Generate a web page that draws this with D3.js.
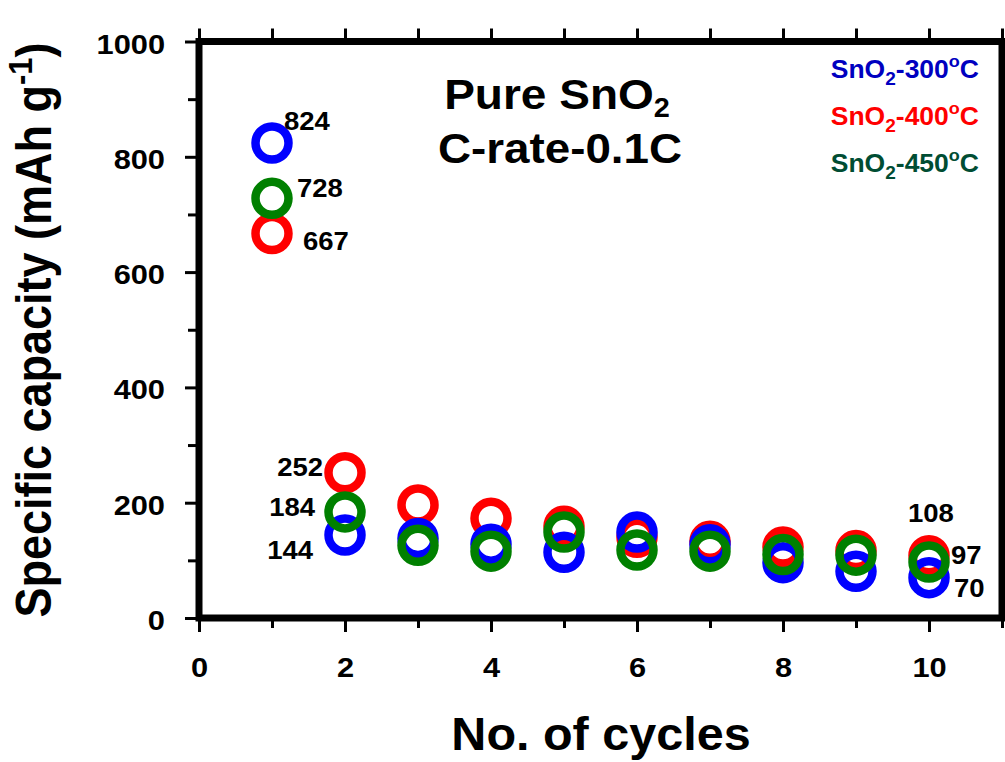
<!DOCTYPE html>
<html>
<head>
<meta charset="utf-8">
<script src="https://cdn.jsdelivr.net/npm/d3@7"></script>
<style>
  html, body { margin: 0; padding: 0; background: #fff; }
  svg { display: block; }
  text { font-family: "Liberation Sans", Arial, Helvetica, sans-serif; font-weight: bold; }
</style>
</head>
<body>
<svg id="chart"></svg>
<script>
// Cycle numbers and specific capacity (mAh g-1) per annealing temperature
const cycles = [1, 2, 3, 4, 5, 6, 7, 8, 9, 10];
const cap300 = [824, 144, 138, 128, 114, 149, 127, 96, 81, 70];
const cap400 = [667, 252, 196, 173, 159, 140, 133, 123, 117, 108];
const cap450 = [728, 184, 126, 116, 149, 118, 116, 110, 109, 97];

const legendTemps = ["300", "400", "450"];
const yMajorTicks = [0, 200, 400, 600, 800, 1000];
const yMinorTicks = [100, 300, 500, 700, 900];
const xMajorTicks = [0, 2, 4, 6, 8, 10];
const xMinorTicks = [1, 3, 5, 7, 9, 11];

// Marker and legend colours
const markerColors = { t300: "#0000ff", t400: "#ff0000", t450: "#008000" };
const legendColors = ["#0000c0", "#ff0000", "#004d33"];

const W = 1005, H = 762;
const SX = 1.1; // horizontal stretch applied to text

const svg = d3.select("#chart").attr("width", W).attr("height", H);
svg.append("rect").attr("width", W).attr("height", H).attr("fill", "#fff");

const x = d3.scaleLinear().domain([0, 11]).range([199, 1002]);
const y = d3.scaleLinear().domain([0, 1000]).range([618, 41.5]);

// Writes a (possibly multi-part) stretched text label
function label(parent, px, py, parts, size, anchor, color, extra, sx) {
  const t = parent.append("text")
    .attr("transform", `translate(${px},${py}) scale(${sx || SX},1)` + (extra || ""))
    .attr("text-anchor", anchor)
    .attr("font-size", size)
    .attr("fill", color || "#000");
  if (typeof parts === "string") { t.text(parts); return t; }
  parts.forEach(p => {
    const s = t.append("tspan").text(p.t);
    if (p.size) s.attr("font-size", p.size);
    if (p.dy) s.attr("dy", p.dy);
  });
  return t;
}

// Axes: ticks outside the frame
function styleAxis(g) {
  g.select(".domain").remove();
  g.selectAll(".tick line").attr("stroke", "#000").attr("stroke-width", 3);
}

const gLeft = svg.append("g").attr("transform", `translate(${x(0)},0)`);
gLeft.call(d3.axisLeft(y).tickValues(yMajorTicks).tickSize(14).tickFormat(d3.format("d"))).call(styleAxis);
gLeft.selectAll(".tick text")
  .attr("x", null).attr("dy", null)
  .attr("transform", `translate(-34,11.5) scale(${SX},1)`)
  .attr("text-anchor", "end")
  .attr("font-size", 28).attr("fill", "#000");
svg.append("g").attr("transform", `translate(${x(0)},0)`)
  .call(d3.axisLeft(y).tickValues(yMinorTicks).tickSize(11).tickFormat("")).call(styleAxis);

const gBottom = svg.append("g").attr("transform", `translate(0,${y(0)})`);
gBottom.call(d3.axisBottom(x).tickValues(xMajorTicks).tickSize(14).tickFormat(d3.format("d"))).call(styleAxis);
gBottom.selectAll(".tick text")
  .attr("y", null).attr("dy", null)
  .attr("transform", `translate(0,59) scale(${SX},1)`)
  .attr("text-anchor", "middle")
  .attr("font-size", 28).attr("fill", "#000");
svg.append("g").attr("transform", `translate(0,${y(0)})`)
  .call(d3.axisBottom(x).tickValues(xMinorTicks).tickSize(10).tickFormat("")).call(styleAxis);

svg.append("g").attr("transform", `translate(0,${y(1000)})`)
  .call(d3.axisTop(x).tickValues(d3.range(0, 12)).tickSize(13).tickFormat("")).call(styleAxis);

// Plot frame
svg.append("rect")
  .attr("x", x(0)).attr("y", y(1000))
  .attr("width", x(11) - x(0)).attr("height", y(0) - y(1000))
  .attr("fill", "none").attr("stroke", "#000").attr("stroke-width", 7);

// Hollow circle markers (drawn 400, 300, then 450 on top)
const series = [
  { key: "t400", values: cap400 },
  { key: "t300", values: cap300 },
  { key: "t450", values: cap450 }
];
const gPts = svg.append("g");
series.forEach(s => {
  gPts.append("g").selectAll("circle")
    .data(cycles.map((c, i) => ({ c, v: s.values[i] })))
    .join("circle")
    .attr("cx", d => x(d.c)).attr("cy", d => y(d.v))
    .attr("r", 16.5)
    .attr("fill", "none")
    .attr("stroke", markerColors[s.key])
    .attr("stroke-width", 8.5);
});

// Value annotations: which point, and the label offset from it
const notes = [
  { values: cap300, i: 0, dx: 12, dy: -13, anchor: "start" },
  { values: cap450, i: 0, dx: 25, dy: -1, anchor: "start" },
  { values: cap400, i: 0, dx: 31, dy: 16.5, anchor: "start" },
  { values: cap400, i: 1, dx: -22, dy: 3, anchor: "end" },
  { values: cap450, i: 1, dx: -30, dy: 4, anchor: "end" },
  { values: cap300, i: 1, dx: -32, dy: 24, anchor: "end" },
  { values: cap400, i: 9, dx: -21, dy: -34, anchor: "start" },
  { values: cap450, i: 9, dx: 22, dy: 2, anchor: "start" },
  { values: cap300, i: 9, dx: 25, dy: 19, anchor: "start" }
];
notes.forEach(n => {
  label(svg, x(cycles[n.i]) + n.dx, y(n.values[n.i]) + n.dy, String(n.values[n.i]), 25, n.anchor);
});

// Chart title
label(svg, 557, 109, [{ t: "Pure SnO" }, { t: "2", size: 27, dy: 8 }], 43, "middle", "#000", "", 1.07);
label(svg, 560, 163, "C-rate-0.1C", 42, "middle", "#000", "", 1.09);

// Legend
legendTemps.forEach((t, i) => {
  label(svg, 979, 78 + i * 47, [
    { t: "SnO" },
    { t: "2", size: 18, dy: 7 },
    { t: "-" + t, size: 25, dy: -7 },
    { t: "o", size: 17, dy: -11 },
    { t: "C", size: 25, dy: 11 }
  ], 25, "end", legendColors[i], "", 1.06);
});

// Axis titles
label(svg, 601, 750, "No. of cycles", 46, "middle", "#000", "", 1.055);
label(svg, 51, 330, [
  { t: "Specific capacity (mAh g" },
  { t: "-1", size: 31, dy: -17 },
  { t: ")", size: 45, dy: 17 }
], 45, "middle", "#000", " rotate(-90)");
</script>
</body>
</html>
